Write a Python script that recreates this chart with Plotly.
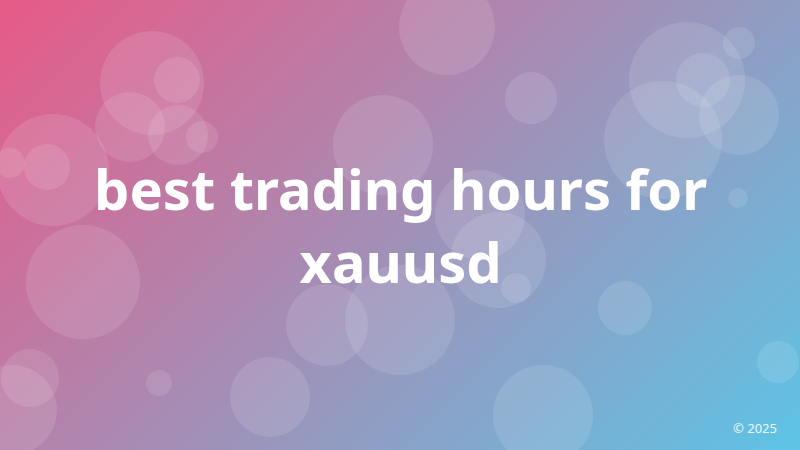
import plotly.graph_objects as go

W, H = 800, 450

# 배경 그라디언트 (모서리 값, 135도 방향)
grad_x = [0, W]
grad_y = [0, H]
grad_z = [[0, 800], [450, 1250]]
grad_colors = [[0, 'rgb(232,90,135)'], [1, 'rgb(93,196,230)']]

# 보케 원 (중심 x, 중심 y, 반지름) — 픽셀 단위
cx = [447, 152, 177, 130, 178, 202, 53, 47, 10, 383,
      531, 687, 703, 739, 663, 739, 738,
      480, 498, 516, 400, 327, 83, 30, 12, 159, 270,
      625, 543, 778]
cy = [27, 83, 80, 127, 135, 137, 170, 167, 163, 145,
      98, 80, 80, 43, 140, 115, 198,
      215, 260, 288, 320, 325, 282, 378, 410, 383, 397,
      308, 415, 362]
cr = [48, 52, 23, 35, 30, 16, 56, 23, 15, 50,
      26, 58, 27, 16, 59, 40, 10,
      45, 48, 15, 55, 41, 57, 29, 45, 13, 40,
      27, 50, 21]

title_lines = ["best trading hours for", "xauusd"]
footer = "© 2025"

fig = go.Figure()

fig.add_trace(go.Heatmap(
    x=grad_x, y=grad_y, z=grad_z,
    colorscale=grad_colors, zsmooth='best',
    showscale=False, hoverinfo='skip',
))

fig.add_trace(go.Scatter(
    x=cx, y=cy, mode='markers',
    marker=dict(size=[2 * r for r in cr], color='rgba(255,255,255,0.16)',
                line=dict(width=0)),
    hoverinfo='skip', showlegend=False,
))

fig.update_layout(
    width=W, height=H,
    margin=dict(l=0, r=0, t=0, b=0),
    xaxis=dict(range=[0, W], visible=False, fixedrange=True),
    yaxis=dict(range=[H, 0], visible=False, fixedrange=True),
    plot_bgcolor='rgb(162,142,181)',
    paper_bgcolor='rgb(162,142,181)',
    showlegend=False,
    annotations=[
        dict(
            text="<br>".join(title_lines),
            x=W / 2, y=224, xref='x', yref='y',
            xanchor='center', yanchor='middle',
            showarrow=False, align='center',
            font=dict(family='Noto Sans', size=56, color='white', weight='bold'),
        ),
        dict(
            text=footer, x=779, y=428, xref='x', yref='y',
            xanchor='right', yanchor='middle', showarrow=False,
            font=dict(family='Noto Sans', size=13, color='rgba(255,255,255,0.9)'),
        ),
    ],
)

# 브라우저 기본 body 여백 제거, 모드바 숨김
fig.write_html("out.html", config={'displayModeBar': False},
               post_script="document.body.style.margin='0';")
